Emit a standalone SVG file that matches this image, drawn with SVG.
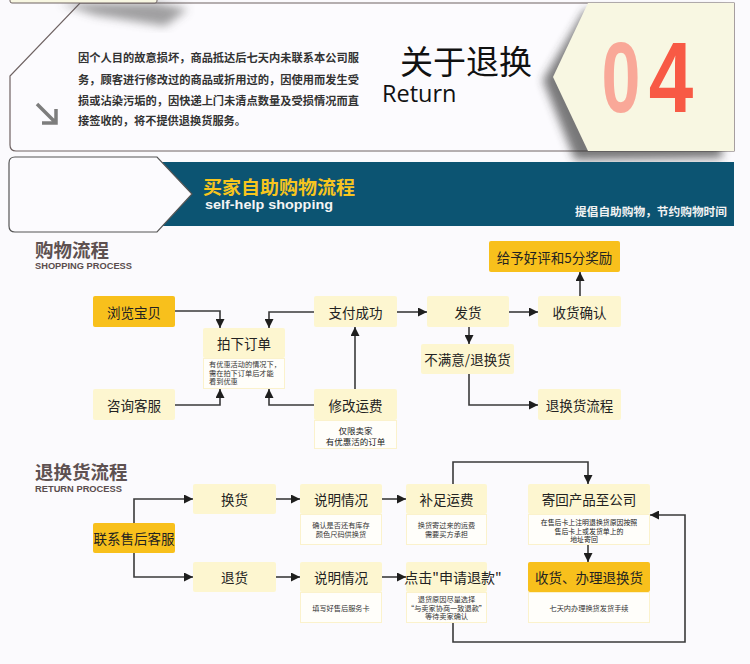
<svg xmlns="http://www.w3.org/2000/svg" width="750" height="664" viewBox="0 0 750 664">
<style>
.cn{font-family:"Noto Sans CJK SC",sans-serif;fill:#222;text-anchor:middle;dominant-baseline:central}
.bt{font-size:13.5px}
.st{font-size:7.2px;fill:#333}
.gold{fill:#f8c01c}
.lt{fill:#fdf6d0}
.sub{fill:#fffefa;stroke:#fbf2cc;stroke-width:1}
.hd{font-family:"Noto Sans CJK SC",sans-serif;font-size:18.5px;font-weight:bold;fill:#5e5151;dominant-baseline:central}
.en{font-family:"Liberation Sans",Arial,sans-serif;font-weight:bold;font-size:8.5px;fill:#5a4d4d;dominant-baseline:central}
.cx{fill:none;stroke:#3a3a3a;stroke-width:1.6;marker-end:url(#ah)}
.pt{font-family:"Noto Sans CJK SC",sans-serif;font-size:11.2px;fill:#333;font-weight:bold}
</style>
<defs>
<marker id="ah" viewBox="0 0 10 10" refX="10" refY="5" markerWidth="9" markerHeight="9" markerUnits="userSpaceOnUse" orient="auto"><path d="M0,0 L10,5 L0,10 z" fill="#1e1e1e"/></marker>
<filter id="bl" x="-30%" y="-30%" width="160%" height="160%"><feGaussianBlur stdDeviation="5"/></filter>
</defs>
<rect x="0" y="0" width="750" height="664" fill="#fbfafd"/>

<g id="top-card">
<path d="M80,3 H734 V151 H16 Q10,151 10,145 V76 Z" fill="#fcfbfe" stroke="#6e6262" stroke-width="1.2"/>
<path d="M60,3 L157,3 L188,9 L165,26 L95,15 Z" fill="#444" opacity="0.5" filter="url(#bl)"/>
<rect x="10" y="-6" width="147" height="9" rx="2" fill="#f8f7e2" stroke="#6e6262" stroke-width="1"/>
<path d="M585,10 L722,10 L722,158 L575,160 L543,80 Z" fill="#333" opacity="0.65" filter="url(#bl)"/>
<path d="M588,3 L734,3 L734,151 L588,151 L553,77 Z" fill="#f8f7e2"/>
<text class="pt" x="78" y="62" textLength="281" lengthAdjust="spacingAndGlyphs">因个人目的故意损坏，商品抵达后七天内未联系本公司服</text>
<text class="pt" x="78" y="84" textLength="281" lengthAdjust="spacingAndGlyphs">务，顾客进行修改过的商品或折用过的，因使用而发生受</text>
<text class="pt" x="78" y="105" textLength="281" lengthAdjust="spacingAndGlyphs">损或沾染污垢的，因快递上门未清点数量及受损情况而直</text>
<text class="pt" x="78" y="125" textLength="168" lengthAdjust="spacingAndGlyphs">接签收的，将不提供退换货服务。</text>
<path d="M37,104 L56,123 M56,109 V123 H42" fill="none" stroke="#7d7d7d" stroke-width="3.5"/>
<text x="466" y="60" font-family="'Noto Sans CJK SC',sans-serif" font-size="33" fill="#111" text-anchor="middle" dominant-baseline="central">关于退换</text>
<text x="382" y="102" font-family="'Open Sans','Noto Sans',sans-serif" font-size="23.5" fill="#111">Return</text>
<text transform="translate(621,112) scale(0.7,1)" font-family="'Liberation Sans',Arial,sans-serif" font-weight="bold" font-size="100" fill="#f9a898" text-anchor="middle">0</text>
<text transform="translate(671,112) scale(0.8,1)" font-family="'Liberation Sans',Arial,sans-serif" font-weight="bold" font-size="100" fill="#f85a45" text-anchor="middle">4</text>
</g>

<g id="banner">
<rect x="160" y="162" width="574" height="64" fill="#0c5472"/>
<path d="M15,157 H157 L192,194 L157,232 H15 Q9,232 9,226 V163 Q9,157 15,157 Z" fill="#fcfbfe" stroke="#555" stroke-width="1.2"/>
<text x="203" y="186" font-family="'Noto Sans CJK SC',sans-serif" font-weight="bold" font-size="18" fill="#f7c51e" dominant-baseline="central" textLength="152" lengthAdjust="spacingAndGlyphs">买家自助购物流程</text>
<text x="205" y="209" font-family="'Liberation Sans',Arial,sans-serif" font-weight="bold" font-size="13.5" fill="#f4f4f4" textLength="128" lengthAdjust="spacingAndGlyphs">self-help shopping</text>
<text x="727" y="210" font-family="'Noto Sans CJK SC',sans-serif" font-weight="bold" font-size="11.7" fill="#f2f2f2" text-anchor="end" dominant-baseline="central">提倡自助购物，节约购物时间</text>
</g>

<g id="heading-shopping">
<text class="hd" x="35" y="249">购物流程</text>
<text class="en" x="35" y="266" textLength="97" lengthAdjust="spacingAndGlyphs">SHOPPING PROCESS</text>
</g>
<g id="heading-return">
<text class="hd" x="35" y="471">退换货流程</text>
<text class="en" x="35" y="489" textLength="87" lengthAdjust="spacingAndGlyphs">RETURN PROCESS</text>
</g>

<g id="connectors">
<path class="cx" d="M175,311 H220 V328"/>
<path class="cx" d="M314,312 H269 V328"/>
<path class="cx" d="M175,405 H220 V389"/>
<path class="cx" d="M314,405 H269 V389"/>
<path class="cx" d="M397,312 H427"/>
<path class="cx" d="M509,312 H538"/>
<path class="cx" d="M580,296 V272"/>
<path class="cx" d="M469,327 V344"/>
<path class="cx" d="M469,374 V405 H538"/>
<path class="cx" d="M355,389 V327"/>
<path class="cx" d="M134,523 V499 H193"/>
<path class="cx" d="M134,553 V577 H193"/>
<path class="cx" d="M276,499 H300"/>
<path class="cx" d="M382,499 H406"/>
<path class="cx" d="M276,577 H300"/>
<path class="cx" d="M382,577 H406"/>
<path class="cx" d="M453,484 V462 H588 V484"/>
<path class="cx" d="M588,545 V562"/>
<path class="cx" d="M453,623 V642 H685 V515 H650"/>
</g>

<g id="n-browse"><rect class="gold" x="93" y="296" width="82" height="31" rx="2"/><text class="cn bt" x="134" y="311.5">浏览宝贝</text></g>
<g id="n-consult"><rect class="lt" x="93" y="389" width="82" height="31" rx="2"/><text class="cn bt" x="134" y="404.5">咨询客服</text></g>
<g id="n-order">
<rect class="lt" x="203" y="328" width="82" height="30" rx="2"/><text class="cn bt" x="244" y="343">拍下订单</text>
<rect class="sub" x="203.5" y="358.5" width="81" height="30"/>
<text class="cn st" x="209" y="364" style="text-anchor:start">有优惠活动的情况下，</text>
<text class="cn st" x="209" y="372.5" style="text-anchor:start">需在拍下订单后才能</text>
<text class="cn st" x="209" y="381" style="text-anchor:start">看到优惠</text>
</g>
<g id="n-paid"><rect class="lt" x="314" y="296" width="83" height="31" rx="2"/><text class="cn bt" x="355.5" y="311.5">支付成功</text></g>
<g id="n-ship"><rect class="lt" x="427" y="296" width="82" height="31" rx="2"/><text class="cn bt" x="468" y="311.5">发货</text></g>
<g id="n-receive"><rect class="lt" x="538" y="296" width="83" height="31" rx="2"/><text class="cn bt" x="579.5" y="311.5">收货确认</text></g>
<g id="n-reward"><rect class="gold" x="489" y="241" width="131" height="31" rx="2"/><text class="cn bt" x="554.5" y="256.5">给予好评和5分奖励</text></g>
<g id="n-unhappy"><rect class="lt" x="421" y="344" width="93" height="30" rx="2"/><text class="cn bt" x="467.5" y="359">不满意/退换货</text></g>
<g id="n-returnflow"><rect class="lt" x="538" y="389" width="83" height="31" rx="2"/><text class="cn bt" x="579.5" y="404.5">退换货流程</text></g>
<g id="n-fee">
<rect class="lt" x="314" y="389" width="83" height="31" rx="2"/><text class="cn bt" x="355.5" y="404.5">修改运费</text>
<rect class="sub" x="314.5" y="420.5" width="82" height="28"/>
<text class="cn" x="355.5" y="430" font-size="8.5">仅限卖家</text>
<text class="cn" x="355.5" y="441" font-size="8.5">有优惠活的订单</text>
</g>

<g id="r-contact"><rect class="gold" x="93" y="523" width="82" height="30" rx="2"/><text class="cn bt" x="134" y="538">联系售后客服</text></g>
<g id="r-exchange"><rect class="lt" x="193" y="484" width="83" height="30" rx="2"/><text class="cn bt" x="234.5" y="499">换货</text></g>
<g id="r-refund"><rect class="lt" x="193" y="562" width="83" height="30" rx="2"/><text class="cn bt" x="234.5" y="577">退货</text></g>
<g id="r-explain1">
<rect class="lt" x="300" y="484" width="82" height="30" rx="2"/><text class="cn bt" x="341" y="499">说明情况</text>
<rect class="sub" x="300.5" y="514.5" width="81" height="30"/>
<text class="cn st" x="341" y="525">确认是否还有库存</text>
<text class="cn st" x="341" y="534">颜色尺码供换货</text>
</g>
<g id="r-fee">
<rect class="lt" x="406" y="484" width="81" height="30" rx="2"/><text class="cn bt" x="446.5" y="499">补足运费</text>
<rect class="sub" x="406.5" y="514.5" width="80" height="30"/>
<text class="cn st" x="446.5" y="525">换货寄过来的运费</text>
<text class="cn st" x="446.5" y="534">需要买方承担</text>
</g>
<g id="r-sendback">
<rect class="lt" x="528" y="484" width="122" height="30" rx="2"/><text class="cn bt" x="589" y="499">寄回产品至公司</text>
<rect class="sub" x="528.5" y="514.5" width="121" height="30"/>
<text class="cn" x="589" y="522" font-size="6.9" fill="#333">在售后卡上注明退换货原因按照</text>
<text class="cn" x="589" y="530.5" font-size="6.9" fill="#333">售后卡上或发货单上的</text>
<text class="cn" x="584" y="539" font-size="6.9" fill="#333">地址寄回</text>
</g>
<g id="r-explain2">
<rect class="lt" x="300" y="562" width="82" height="30" rx="2"/><text class="cn bt" x="341" y="577">说明情况</text>
<rect class="sub" x="300.5" y="592.5" width="81" height="30"/>
<text class="cn st" x="341" y="608">填写好售后服务卡</text>
</g>
<g id="r-apply">
<rect class="lt" x="406" y="562" width="81" height="30" rx="2"/><text class="cn" x="453" y="577" font-size="14">点击"申请退款"</text>
<rect class="sub" x="406.5" y="592.5" width="80" height="30"/>
<text class="cn st" x="446.5" y="599">退货原因尽量选择</text>
<text class="cn st" x="446.5" y="607.5">“与卖家协商一致退款”</text>
<text class="cn st" x="446.5" y="616">等待卖家确认</text>
</g>
<g id="r-handle">
<rect class="gold" x="528" y="562" width="122" height="30" rx="2"/><text class="cn bt" x="589" y="577">收货、办理退换货</text>
<rect class="sub" x="528.5" y="592.5" width="121" height="30"/>
<text class="cn st" x="589" y="608">七天内办理换货发货手续</text>
</g>
</svg>
